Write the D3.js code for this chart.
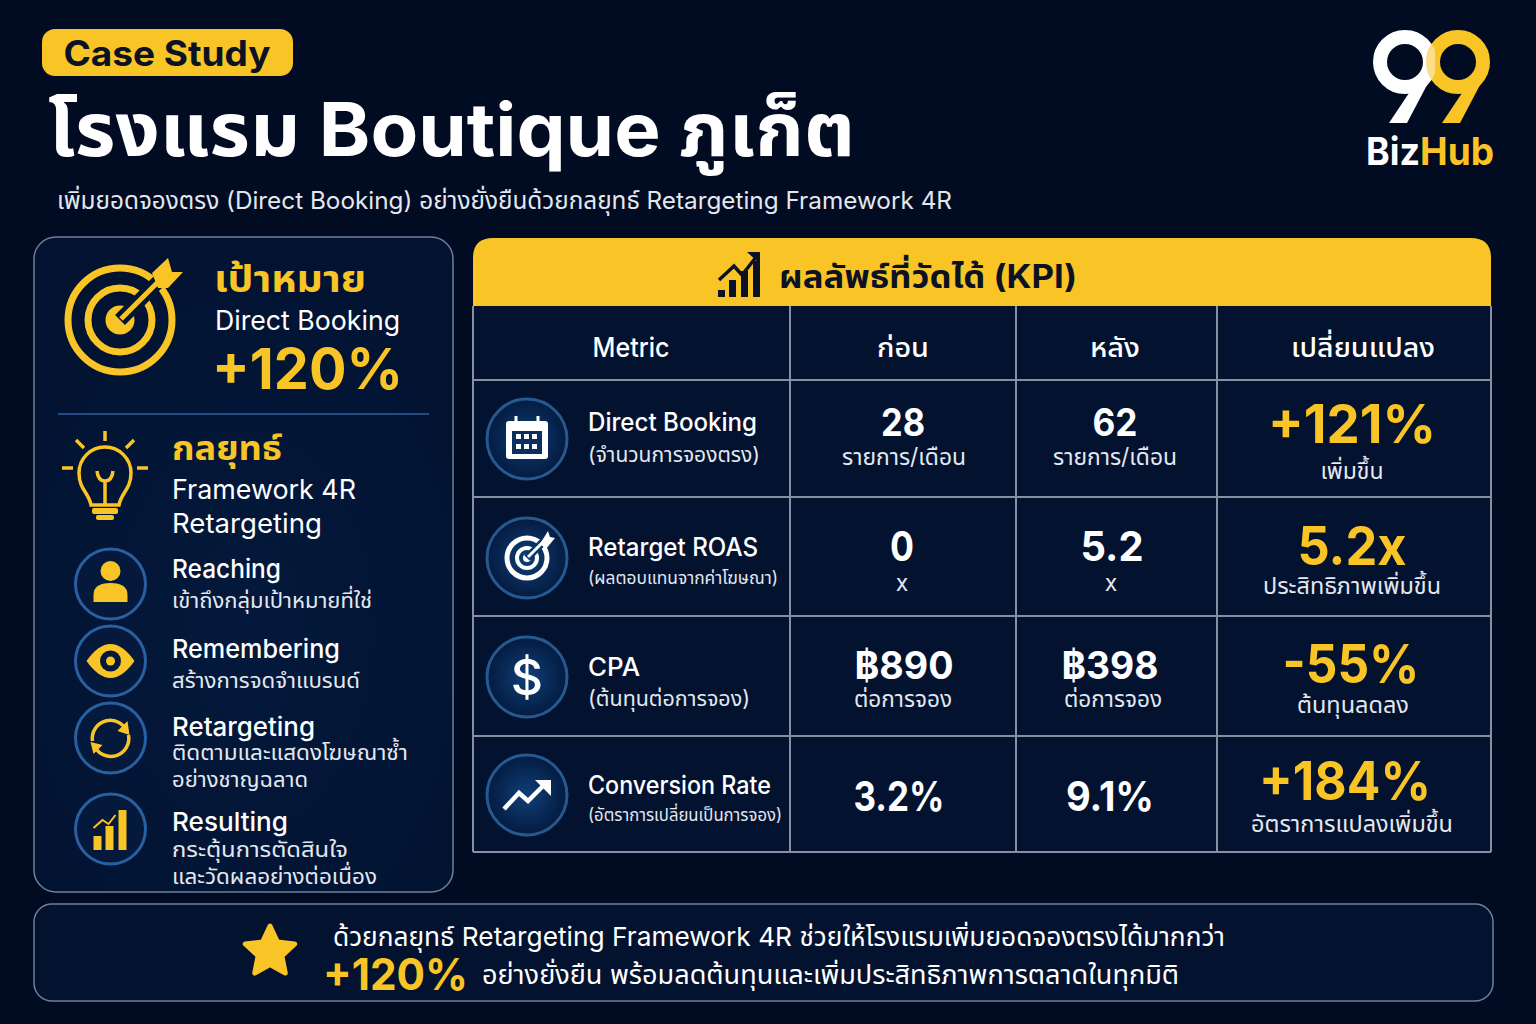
<!DOCTYPE html>
<html>
<head>
<meta charset="utf-8">
<script src="https://cdn.jsdelivr.net/npm/d3@7"></script>
<style>
  html, body { margin: 0; padding: 0; background: #010b22; }
  svg { display: block; }
  text { font-family: Inter, "Noto Sans Thai", "Noto Sans", sans-serif; }
</style>
</head>
<body>
<svg id="chart" width="1536" height="1024"></svg>
<script>
// table data
var metricNames = ["Direct Booking", "Retarget ROAS", "CPA", "Conversion Rate"];
var metricNotes = ["(จำนวนการจองตรง)", "(ผลตอบแทนจากค่าโฆษณา)", "(ต้นทุนต่อการจอง)", "(อัตราการเปลี่ยนเป็นการจอง)"];
var columnLabels = ["Metric", "ก่อน", "หลัง", "เปลี่ยนแปลง"];
var beforeValues = [28, 0, 890, 3.2];
var afterValues = [62, 5.2, 398, 9.1];
var changeValues = [121, 5.2, -55, 184];
var valuePrefixes = ["", "", "฿", ""];
var valueSuffixes = ["", "", "", "%"];
var valueUnits = ["รายการ/เดือน", "x", "ต่อการจอง", ""];
var changeSuffixes = ["%", "x", "%", "%"];
var changeNotes = ["เพิ่มขึ้น", "ประสิทธิภาพเพิ่มขึ้น", "ต้นทุนลดลง", "อัตราการแปลงเพิ่มขึ้น"];
var rowIcons = ["calendar", "target", "dollar", "trend"];

// 4R list
var stepNames = ["Reaching", "Remembering", "Retargeting", "Resulting"];
var stepNotes = [
  ["เข้าถึงกลุ่มเป้าหมายที่ใช่"],
  ["สร้างการจดจำแบรนด์"],
  ["ติดตามและแสดงโฆษณาซ้ำ", "อย่างชาญฉลาด"],
  ["กระตุ้นการตัดสินใจ", "และวัดผลอย่างต่อเนื่อง"]
];
var stepIcons = ["person", "eye", "cycle", "bars"];

var YELLOW = "#f9c425", WHITE = "#ffffff", SOFT = "#e3e8f0", INK = "#0b1224";
var LINE = "#878fa1", BLUE = "#2a609f";

var stepDrawers = { person: drawStepPerson, eye: drawStepEye, cycle: drawStepCycle, bars: drawStepBars };
var rowDrawers = { calendar: drawRowCalendar, target: drawRowTarget, dollar: drawRowDollar, trend: drawRowTrend };

var svg = d3.select("#chart");

var defs = svg.append("defs");
var glow = defs.append("radialGradient").attr("id", "disc");
glow.append("stop").attr("offset", "0%").attr("stop-color", "#0f3f78");
glow.append("stop").attr("offset", "100%").attr("stop-color", "#041b40");
var panel = defs.append("radialGradient").attr("id", "panel").attr("cx", "50%").attr("cy", "60%").attr("r", "70%");
panel.append("stop").attr("offset", "0%").attr("stop-color", "#04193c");
panel.append("stop").attr("offset", "100%").attr("stop-color", "#021230");

svg.append("rect").attr("width", 1536).attr("height", 1024).attr("fill", "#010b22");

// width is the length, the glyphs get stretched to it
function label(g, x, y, str, size, opts) {
  opts = opts || {};
  var t = g.append("text")
    .attr("x", x).attr("y", y)
    .attr("font-size", size)
    .attr("font-weight", opts.weight || 400)
    .attr("text-anchor", opts.anchor || "start")
    .attr("fill", opts.fill || WHITE)
    .text(str);
  if (opts.width) t.attr("textLength", opts.width).attr("lengthAdjust", "spacingAndGlyphs");
  return t;
}

// ---- header
svg.append("rect").attr("x", 42).attr("y", 29).attr("width", 251).attr("height", 47).attr("rx", 13).attr("fill", YELLOW);
label(svg, 167, 66, "Case Study", 35, { weight: 700, anchor: "middle", fill: INK, width: 207 });
label(svg, 48, 156, "โรงแรม Boutique ภูเก็ต", 74, { weight: 700, width: 807 });
label(svg, 57, 209, "เพิ่มยอดจองตรง (Direct Booking) อย่างยั่งยืนด้วยกลยุทธ์ Retargeting Framework 4R", 24, { fill: SOFT, width: 895 });

// logo
var logo = svg.append("g");
function nine(g, cx, color) {
  g.append("circle").attr("cx", cx).attr("cy", 62).attr("r", 25).attr("fill", "none").attr("stroke", color).attr("stroke-width", 14);
  g.append("path").attr("d", "M" + (cx + 32) + " 66 L" + (cx + 2) + " 123 L" + (cx - 16) + " 123 L" + (cx + 14) + " 78 Z").attr("fill", color);
}
nine(logo, 1405, WHITE);
nine(logo, 1458, YELLOW);
var logoMask = defs.append("mask").attr("id", "logoOverlap");
logoMask.append("circle").attr("cx", 1458).attr("cy", 62).attr("r", 25).attr("fill", "none").attr("stroke", "#fff").attr("stroke-width", 14);
logo.append("g").attr("mask", "url(#logoOverlap)").attr("opacity", 0.45)
  .append("circle").attr("cx", 1405).attr("cy", 62).attr("r", 25).attr("fill", "none").attr("stroke", WHITE).attr("stroke-width", 14);
label(logo, 1366, 165, "Biz", 38, { weight: 700, width: 54 });
label(logo, 1420, 165, "Hub", 38, { weight: 700, fill: YELLOW, width: 74 });

// ---- left panel
var left = svg.append("g");
left.append("rect").attr("x", 34).attr("y", 237).attr("width", 419).attr("height", 655).attr("rx", 22)
  .attr("fill", "url(#panel)").attr("stroke", "#6f7f9b").attr("stroke-width", 1.5);

drawTarget(left.append("g").attr("transform", "translate(120,320)"));
label(left, 214, 292, "เป้าหมาย", 37, { weight: 700, fill: YELLOW, width: 152 });
label(left, 215, 330, "Direct Booking", 27, { width: 185 });
label(left, 212, 389, "+120%", 57, { weight: 700, fill: YELLOW, width: 191 });

left.append("line").attr("x1", 58).attr("x2", 429).attr("y1", 414).attr("y2", 414).attr("stroke", BLUE).attr("stroke-width", 1.5);

drawBulb(left.append("g").attr("transform", "translate(105,479)"));
label(left, 172, 460, "กลยุทธ์", 34, { weight: 700, fill: YELLOW, width: 110 });
label(left, 172, 499, "Framework 4R", 27, { width: 184 });
label(left, 172, 533, "Retargeting", 27, { width: 150 });

var stepY = d3.scaleOrdinal().domain(stepNames).range([584, 661, 738, 829]);
var stepTitleY = d3.scaleOrdinal().domain(stepNames).range([578, 658, 736, 831]);
var stepNoteY = d3.scaleOrdinal().domain(stepNames).range([608, 688, 760, 857]);
var stepTitleW = [109, 168, 143, 116];
var stepNoteW = [[200], [188], [236, 136], [176, 205]];

stepNames.forEach(function(name, i) {
  var icon = left.append("g").attr("transform", "translate(110.5," + stepY(name) + ")");
  icon.append("circle").attr("r", 35).attr("fill", "#04193c").attr("stroke", BLUE).attr("stroke-width", 3);
  stepDrawers[stepIcons[i]](icon);
  label(left, 172, stepTitleY(name), name, 26, { weight: 500, width: stepTitleW[i] });
  stepNotes[i].forEach(function(line, j) {
    label(left, 172, stepNoteY(name) + j * 26.5, line, 22, { fill: SOFT, width: stepNoteW[i][j] });
  });
});

// ---- KPI table
var columnEdges = [473, 790, 1016, 1217, 1491];
var rowEdges = [306, 380, 497, 616, 736, 852];
var rowIds = d3.range(metricNames.length);
var rowY = d3.scaleOrdinal().domain(rowIds).range([439, 558, 677, 795]);

var table = svg.append("g");
table.append("rect").attr("x", 473).attr("y", 306).attr("width", 1018).attr("height", 546).attr("fill", "#03122f");
table.append("path").attr("d", "M473 306 V258 Q473 238 493 238 H1471 Q1491 238 1491 258 V306 Z").attr("fill", YELLOW);
drawKpiIcon(table.append("g").attr("transform", "translate(717,252)"));
label(table, 779, 288, "ผลลัพธ์ที่วัดได้ (KPI)", 32, { weight: 700, fill: INK, width: 298 });

table.selectAll("line.col").data(columnEdges).enter().append("line").attr("class", "col")
  .attr("x1", function(d) { return d; }).attr("x2", function(d) { return d; })
  .attr("y1", 306).attr("y2", 852).attr("stroke", LINE).attr("stroke-width", 2);
table.selectAll("line.row").data(rowEdges.slice(1)).enter().append("line").attr("class", "row")
  .attr("x1", 473).attr("x2", 1491)
  .attr("y1", function(d) { return d; }).attr("y2", function(d) { return d; })
  .attr("stroke", LINE).attr("stroke-width", 2);

var headCenters = [631, 903, 1115, 1363];
var headWidths = [77, 52, 50, 144];
columnLabels.forEach(function(d, i) {
  label(table, headCenters[i], 357, d, 27, { weight: 500, anchor: "middle", width: headWidths[i] });
});

var nameY = [431, 556, 676, 794];
var nameW = [169, 170, 52, 183];
var noteY = [462, 584, 706, 821];
var noteW = [172, 190, 162, 194];
var noteSize = [21, 18, 22, 17.5];
var beforeX = [903, 902, 904, 899];
var afterX = [1115, 1112, 1110, 1110];
var beforeW = [44, 24, 99, 91];
var afterW = [45, 63, 97, 88];
var valueY = [436, 561, 679, 811];
var valueSize = [38, 41, 38, 41];
var unitX = [[904, 1115], [902, 1111], [903, 1113], [0, 0]];
var unitY = [465, 591, 707, 0];
var unitW = [124, 0, 98, 0];
var changeX = [1352, 1352, 1351, 1345];
var changeY = [443, 565, 683, 800];
var changeW = [168, 109, 137, 172];
var changeNoteX = [1352, 1352, 1353, 1352];
var changeNoteY = [479, 594, 713, 832];
var changeNoteW = [63, 178, 112, 202];

function fmtValue(v, i) {
  return valuePrefixes[i] + v + valueSuffixes[i];
}
function fmtChange(v, i) {
  return (changeSuffixes[i] === "%" && v > 0 ? "+" : "") + v + changeSuffixes[i];
}

rowIds.forEach(function(i) {
  var icon = table.append("g").attr("transform", "translate(527," + rowY(i) + ")");
  icon.append("circle").attr("r", 40).attr("fill", "url(#disc)").attr("stroke", "#25598f").attr("stroke-width", 3);
  rowDrawers[rowIcons[i]](icon);

  label(table, 588, nameY[i], metricNames[i], 25, { weight: 500, width: nameW[i] });
  label(table, 588, noteY[i], metricNotes[i], noteSize[i], { fill: SOFT, width: noteW[i] });

  label(table, beforeX[i], valueY[i], fmtValue(beforeValues[i], i), valueSize[i], { weight: 700, anchor: "middle", width: beforeW[i] });
  label(table, afterX[i], valueY[i], fmtValue(afterValues[i], i), valueSize[i], { weight: 700, anchor: "middle", width: afterW[i] });
  if (valueUnits[i]) {
    label(table, unitX[i][0], unitY[i], valueUnits[i], 23, { anchor: "middle", fill: SOFT, width: unitW[i] || null });
    label(table, unitX[i][1], unitY[i], valueUnits[i], 23, { anchor: "middle", fill: SOFT, width: unitW[i] || null });
  }
  label(table, changeX[i], changeY[i], fmtChange(changeValues[i], i), 53, { weight: 700, anchor: "middle", fill: YELLOW, width: changeW[i] });
  label(table, changeNoteX[i], changeNoteY[i], changeNotes[i], 23, { anchor: "middle", fill: SOFT, width: changeNoteW[i] });
});

// ---- footer
var foot = svg.append("g");
foot.append("rect").attr("x", 34).attr("y", 904).attr("width", 1459).attr("height", 97).attr("rx", 18)
  .attr("fill", "#03122f").attr("stroke", "#6f7f9b").attr("stroke-width", 1.5);
var starLine = d3.lineRadial().curve(d3.curveLinearClosed)
  .angle(function(d) { return d * Math.PI / 5; })
  .radius(function(d) { return d % 2 ? 12.5 : 26; });
foot.append("path").attr("transform", "translate(270,952)")
  .attr("d", starLine(d3.range(10))).attr("fill", YELLOW)
  .attr("stroke", YELLOW).attr("stroke-width", 5).attr("stroke-linejoin", "round");
label(foot, 333, 946, "ด้วยกลยุทธ์ Retargeting Framework 4R ช่วยให้โรงแรมเพิ่มยอดจองตรงได้มากกว่า", 26, { width: 892 });
label(foot, 323, 990, "+120%", 44, { weight: 700, fill: YELLOW, width: 145 });
label(foot, 482, 984, "อย่างยั่งยืน พร้อมลดต้นทุนและเพิ่มประสิทธิภาพการตลาดในทุกมิติ", 26, { width: 697 });

// ---- icons
function drawTarget(g) {
  [[52, 7], [32, 7]].forEach(function(r) {
    g.append("circle").attr("r", r[0]).attr("fill", "none").attr("stroke", YELLOW).attr("stroke-width", r[1]);
  });
  g.append("circle").attr("r", 14.5).attr("fill", YELLOW);
  g.append("line").attr("x1", 0).attr("y1", 0).attr("x2", 40).attr("y2", -40)
    .attr("stroke", "#031533").attr("stroke-width", 14);
  g.append("line").attr("x1", 1).attr("y1", -1).attr("x2", 42).attr("y2", -42)
    .attr("stroke", YELLOW).attr("stroke-width", 5);
  g.append("path").attr("d", "M48 -62 L52 -48 L63 -48 L48 -32 L38 -32 L32 -47 Z").attr("fill", YELLOW);
}

function drawBulb(g) {
  g.append("path").attr("d", "M-14 26 C-16 14 -26 10 -26 -6 A26 26 0 1 1 26 -6 C26 10 16 14 14 26 Z")
    .attr("fill", "none").attr("stroke", YELLOW).attr("stroke-width", 3.5);
  g.append("path").attr("d", "M-8 -8 Q-7 2 0 2 Q7 2 8 -8 M0 2 V26")
    .attr("fill", "none").attr("stroke", YELLOW).attr("stroke-width", 3.5);
  g.append("rect").attr("x", -13).attr("y", 29).attr("width", 26).attr("height", 6).attr("rx", 2).attr("fill", YELLOW);
  g.append("rect").attr("x", -9).attr("y", 36).attr("width", 18).attr("height", 5).attr("rx", 2).attr("fill", YELLOW);
  g.append("path").attr("d", "M0 -48 V-38 M-29 -39 L-21 -31 M29 -39 L21 -31 M-43 -11 H-32 M43 -11 H32")
    .attr("fill", "none").attr("stroke", YELLOW).attr("stroke-width", 3.5);
}

function drawKpiIcon(g) {
  [[1, 38], [12, 28], [24, 19], [36, 9]].forEach(function(b) {
    g.append("rect").attr("x", b[0]).attr("y", b[1]).attr("width", 7).attr("height", 45 - b[1]).attr("fill", INK);
  });
  g.append("path").attr("d", "M2 28 L17 14 L25 23 L40 4").attr("fill", "none").attr("stroke", INK).attr("stroke-width", 3.5);
  g.append("path").attr("d", "M30 0 H43 V12 Z").attr("fill", INK);
}

function drawStepPerson(g) {
  g.append("circle").attr("cy", -13).attr("r", 10).attr("fill", YELLOW);
  g.append("path").attr("d", "M-17 18 V11 Q-17 -1 0 -1 Q17 -1 17 11 V18 Z").attr("fill", YELLOW);
}
function drawStepEye(g) {
  g.append("path").attr("d", "M-24 0 Q-12 -17 0 -17 Q12 -17 24 0 Q12 17 0 17 Q-12 17 -24 0 Z").attr("fill", YELLOW);
  g.append("circle").attr("r", 10.5).attr("fill", "#04193c");
  g.append("circle").attr("r", 4.5).attr("fill", YELLOW);
}
function drawStepCycle(g) {
  g.append("path").attr("d", "M-18 3 A18 18 0 0 1 17 -5").attr("fill", "none").attr("stroke", YELLOW).attr("stroke-width", 3.5);
  g.append("path").attr("d", "M18 -3 A18 18 0 0 1 -16 8").attr("fill", "none").attr("stroke", YELLOW).attr("stroke-width", 3.5);
  g.append("path").attr("d", "M17 -17 L19 -3 L7 -7 Z").attr("fill", YELLOW);
  g.append("path").attr("d", "M-17 16 L-20 4 L-8 7 Z").attr("fill", YELLOW);
}
function drawStepBars(g) {
  g.append("rect").attr("x", -17).attr("y", 7).attr("width", 8).attr("height", 14).attr("fill", YELLOW);
  g.append("rect").attr("x", -5).attr("y", -3).attr("width", 8).attr("height", 24).attr("fill", YELLOW);
  g.append("rect").attr("x", 8).attr("y", -19).attr("width", 8).attr("height", 40).attr("fill", YELLOW);
  g.append("path").attr("d", "M-17 -1 L-8 -9 L-2 -5 L5 -14").attr("fill", "none").attr("stroke", YELLOW).attr("stroke-width", 2);
}

function drawRowCalendar(g) {
  g.append("rect").attr("x", -21).attr("y", -18).attr("width", 42).attr("height", 38).attr("rx", 3).attr("fill", WHITE);
  g.append("rect").attr("x", -15).attr("y", -8).attr("width", 30).attr("height", 23).attr("fill", "#0a2f60");
  g.append("path").attr("d", "M-11 -23 V-14 M11 -23 V-14").attr("stroke", WHITE).attr("stroke-width", 3);
  [-11, -3, 5].forEach(function(x) {
    [-5, 5].forEach(function(y) {
      g.append("rect").attr("x", x).attr("y", y).attr("width", 5).attr("height", 5).attr("fill", WHITE);
    });
  });
}
function drawRowTarget(g) {
  g.append("circle").attr("r", 20).attr("fill", "none").attr("stroke", WHITE).attr("stroke-width", 5);
  g.append("circle").attr("r", 10).attr("fill", "none").attr("stroke", WHITE).attr("stroke-width", 4);
  g.append("circle").attr("r", 4).attr("fill", WHITE);
  g.append("line").attr("x1", 0).attr("y1", 0).attr("x2", 18).attr("y2", -18).attr("stroke", "#0c356a").attr("stroke-width", 8);
  g.append("line").attr("x1", 1).attr("y1", -1).attr("x2", 19).attr("y2", -19).attr("stroke", WHITE).attr("stroke-width", 3);
  g.append("path").attr("d", "M13 -14 L21 -27 L23 -21 L28 -20 L19 -9 Z").attr("fill", WHITE);
}
function drawRowDollar(g) {
  g.append("text").attr("text-anchor", "middle").attr("y", 18).attr("font-size", 50).attr("font-weight", 500).attr("fill", WHITE).text("$");
}
function drawRowTrend(g) {
  g.append("path").attr("d", "M-23 14 L-8 -2 L1 6 L18 -11").attr("fill", "none").attr("stroke", WHITE).attr("stroke-width", 4.5);
  g.append("path").attr("d", "M8 -15 H24 V1 Z").attr("fill", WHITE);
}
</script>
</body>
</html>
